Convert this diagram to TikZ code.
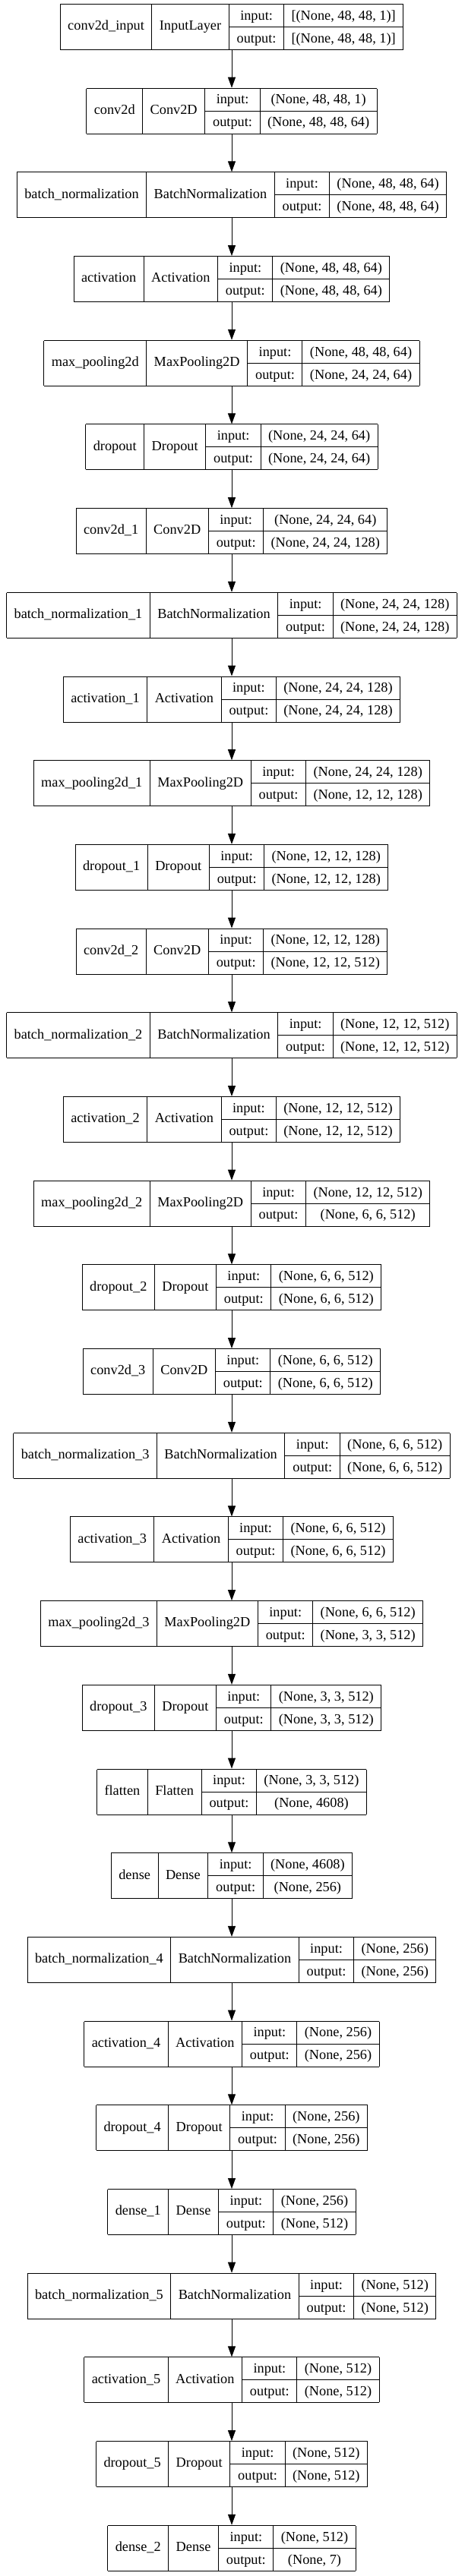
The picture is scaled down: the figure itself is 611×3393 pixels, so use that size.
\documentclass[tikz,border=0pt]{standalone}
\usepackage{fontspec}
\setmainfont{Liberation Serif}
\usepackage{xcolor}
\usepackage{tikz}
\usetikzlibrary{arrows.meta, positioning, calc}
\setlength{\arrayrulewidth}{1pt}
\setlength{\tabcolsep}{10pt}
\renewcommand{\arraystretch}{1.318}
\tikzstyle{layer} = [inner sep=0pt, outer sep=0pt, font=\fontsize{18.3}{22}\selectfont]
\tikzstyle{edge} = [line width=1pt, -{Triangle[length=14pt, width=10pt]}]
% record: name | class | input/output | shapes
\newcommand{\rec}[4]{%
  \begin{tabular}{|c|c|@{}c@{}|}\hline
  #1 & #2 & \begin{tabular}{c|c} input: & #3\\\hline output: & #4\end{tabular}\\\hline
  \end{tabular}}

\begin{document}
\begin{tikzpicture}[node distance=49.7pt]
    \fill[white] (0,0) rectangle (611pt,-3393pt);
    \useasboundingbox (0,0) rectangle (611pt,-3393pt);

    % input and first conv block
    \node[layer] (conv2dinput) at (305pt,-35.5pt)
    {\rec{conv2d\_input}{InputLayer}{[(None, 48, 48, 1)]}{[(None, 48, 48, 1)]}};
    \node[layer, below=of conv2dinput] (conv2d)
    {\rec{conv2d}{Conv2D}{(None, 48, 48, 1)}{(None, 48, 48, 64)}};
    \node[layer, below=of conv2d] (bnorm)
    {\rec{batch\_normalization}{BatchNormalization}{(None, 48, 48, 64)}{(None, 48, 48, 64)}};
    \node[layer, below=of bnorm] (act)
    {\rec{activation}{Activation}{(None, 48, 48, 64)}{(None, 48, 48, 64)}};
    \node[layer, below=of act] (pool)
    {\rec{max\_pooling2d}{MaxPooling2D}{(None, 48, 48, 64)}{(None, 24, 24, 64)}};
    \node[layer, below=of pool] (drop)
    {\rec{dropout}{Dropout}{(None, 24, 24, 64)}{(None, 24, 24, 64)}};

    % second conv block
    \node[layer, below=of drop] (conv2d1)
    {\rec{conv2d\_1}{Conv2D}{(None, 24, 24, 64)}{(None, 24, 24, 128)}};
    \node[layer, below=of conv2d1] (bnorm1)
    {\rec{batch\_normalization\_1}{BatchNormalization}{(None, 24, 24, 128)}{(None, 24, 24, 128)}};
    \node[layer, below=of bnorm1] (act1)
    {\rec{activation\_1}{Activation}{(None, 24, 24, 128)}{(None, 24, 24, 128)}};
    \node[layer, below=of act1] (pool1)
    {\rec{max\_pooling2d\_1}{MaxPooling2D}{(None, 24, 24, 128)}{(None, 12, 12, 128)}};
    \node[layer, below=of pool1] (drop1)
    {\rec{dropout\_1}{Dropout}{(None, 12, 12, 128)}{(None, 12, 12, 128)}};

    % third conv block
    \node[layer, below=of drop1] (conv2d2)
    {\rec{conv2d\_2}{Conv2D}{(None, 12, 12, 128)}{(None, 12, 12, 512)}};
    \node[layer, below=of conv2d2] (bnorm2)
    {\rec{batch\_normalization\_2}{BatchNormalization}{(None, 12, 12, 512)}{(None, 12, 12, 512)}};
    \node[layer, below=of bnorm2] (act2)
    {\rec{activation\_2}{Activation}{(None, 12, 12, 512)}{(None, 12, 12, 512)}};
    \node[layer, below=of act2] (pool2)
    {\rec{max\_pooling2d\_2}{MaxPooling2D}{(None, 12, 12, 512)}{(None, 6, 6, 512)}};
    \node[layer, below=of pool2] (drop2)
    {\rec{dropout\_2}{Dropout}{(None, 6, 6, 512)}{(None, 6, 6, 512)}};

    % fourth conv block
    \node[layer, below=of drop2] (conv2d3)
    {\rec{conv2d\_3}{Conv2D}{(None, 6, 6, 512)}{(None, 6, 6, 512)}};
    \node[layer, below=of conv2d3] (bnorm3)
    {\rec{batch\_normalization\_3}{BatchNormalization}{(None, 6, 6, 512)}{(None, 6, 6, 512)}};
    \node[layer, below=of bnorm3] (act3)
    {\rec{activation\_3}{Activation}{(None, 6, 6, 512)}{(None, 6, 6, 512)}};
    \node[layer, below=of act3] (pool3)
    {\rec{max\_pooling2d\_3}{MaxPooling2D}{(None, 6, 6, 512)}{(None, 3, 3, 512)}};
    \node[layer, below=of pool3] (drop3)
    {\rec{dropout\_3}{Dropout}{(None, 3, 3, 512)}{(None, 3, 3, 512)}};

    % dense head
    \node[layer, below=of drop3] (flat)
    {\rec{flatten}{Flatten}{(None, 3, 3, 512)}{(None, 4608)}};
    \node[layer, below=of flat] (dense)
    {\rec{dense}{Dense}{(None, 4608)}{(None, 256)}};
    \node[layer, below=of dense] (bnorm4)
    {\rec{batch\_normalization\_4}{BatchNormalization}{(None, 256)}{(None, 256)}};
    \node[layer, below=of bnorm4] (act4)
    {\rec{activation\_4}{Activation}{(None, 256)}{(None, 256)}};
    \node[layer, below=of act4] (drop4)
    {\rec{dropout\_4}{Dropout}{(None, 256)}{(None, 256)}};
    \node[layer, below=of drop4] (dense1)
    {\rec{dense\_1}{Dense}{(None, 256)}{(None, 512)}};
    \node[layer, below=of dense1] (bnorm5)
    {\rec{batch\_normalization\_5}{BatchNormalization}{(None, 512)}{(None, 512)}};
    \node[layer, below=of bnorm5] (act5)
    {\rec{activation\_5}{Activation}{(None, 512)}{(None, 512)}};
    \node[layer, below=of act5] (drop5)
    {\rec{dropout\_5}{Dropout}{(None, 512)}{(None, 512)}};
    \node[layer, below=of drop5] (dense2)
    {\rec{dense\_2}{Dense}{(None, 512)}{(None, 7)}};

    % edges
    \draw[edge] (conv2dinput) -- (conv2d);
    \draw[edge] (conv2d) -- (bnorm);
    \draw[edge] (bnorm) -- (act);
    \draw[edge] (act) -- (pool);
    \draw[edge] (pool) -- (drop);
    \draw[edge] (drop) -- (conv2d1);
    \draw[edge] (conv2d1) -- (bnorm1);
    \draw[edge] (bnorm1) -- (act1);
    \draw[edge] (act1) -- (pool1);
    \draw[edge] (pool1) -- (drop1);
    \draw[edge] (drop1) -- (conv2d2);
    \draw[edge] (conv2d2) -- (bnorm2);
    \draw[edge] (bnorm2) -- (act2);
    \draw[edge] (act2) -- (pool2);
    \draw[edge] (pool2) -- (drop2);
    \draw[edge] (drop2) -- (conv2d3);
    \draw[edge] (conv2d3) -- (bnorm3);
    \draw[edge] (bnorm3) -- (act3);
    \draw[edge] (act3) -- (pool3);
    \draw[edge] (pool3) -- (drop3);
    \draw[edge] (drop3) -- (flat);
    \draw[edge] (flat) -- (dense);
    \draw[edge] (dense) -- (bnorm4);
    \draw[edge] (bnorm4) -- (act4);
    \draw[edge] (act4) -- (drop4);
    \draw[edge] (drop4) -- (dense1);
    \draw[edge] (dense1) -- (bnorm5);
    \draw[edge] (bnorm5) -- (act5);
    \draw[edge] (act5) -- (drop5);
    \draw[edge] (drop5) -- (dense2);
\end{tikzpicture}
\end{document}
